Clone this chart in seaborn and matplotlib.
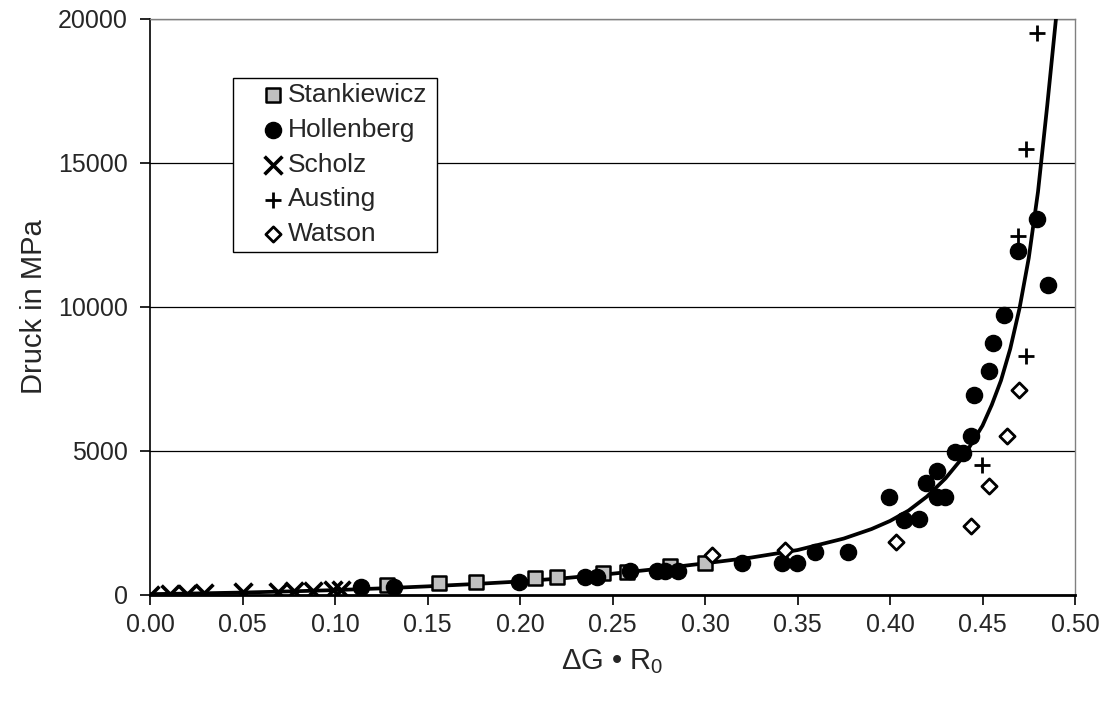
import numpy as np
import pandas as pd
import matplotlib
matplotlib.use("Agg")
import matplotlib.pyplot as plt
from matplotlib.patches import Rectangle
import seaborn as sns

# --- measured data -------------------------------------------------------
stank_x = [0.128, 0.156, 0.176, 0.208, 0.220, 0.245, 0.258, 0.281, 0.300]
stank_p = [330, 400, 460, 580, 630, 750, 800, 1000, 1120]

holl_x = [0.114, 0.132, 0.1995, 0.235, 0.2414, 0.2595, 0.274, 0.2784, 0.2856,
          0.3198, 0.3414, 0.3495, 0.3595, 0.3775, 0.3997, 0.4076, 0.4157,
          0.4193, 0.4252, 0.4252, 0.4297, 0.4351, 0.4396, 0.4436, 0.4456,
          0.4537, 0.4555, 0.4616, 0.4694, 0.4793, 0.4856]
holl_p = [290, 290, 462, 635, 640, 830, 830, 845, 820,
          1120, 1100, 1120, 1480, 1500, 3390, 2600, 2630,
          3880, 4300, 3390, 3390, 4970, 4920, 5530, 6940,
          7790, 8740, 9720, 11950, 13050, 10760]

scholz_x = [0.0, 0.011, 0.020, 0.029, 0.050, 0.069, 0.078, 0.088, 0.099, 0.103]
scholz_p = [0, 40, 50, 60, 90, 120, 130, 150, 170, 190]

aust_x = [0.4495, 0.4735, 0.4694, 0.4735, 0.4793]
aust_p = [4500, 8300, 12450, 15500, 19500]

wat_x = [0.3036, 0.3432, 0.4032, 0.4436, 0.4533, 0.4632, 0.4695]
wat_p = [1390, 1560, 1830, 2400, 3800, 5530, 7120]

# fitted pressure curve
fit_x = [0.000, 0.025, 0.050, 0.075, 0.100, 0.125, 0.150, 0.175, 0.200,
         0.225, 0.250, 0.275, 0.300, 0.325, 0.350, 0.375, 0.390, 0.400,
         0.410, 0.420, 0.430, 0.440, 0.450, 0.455, 0.460, 0.465, 0.470,
         0.475, 0.480, 0.485, 0.4897, 0.4912]
fit_p = [30, 55, 85, 125, 170, 230, 300, 380, 470,
         590, 740, 910, 1100, 1300, 1560, 1960, 2290, 2570,
         2930, 3420, 4050, 4830, 5880, 6600, 7450, 8550, 9950,
         11700, 14000, 17000, 20000, 21000]

x_ticks = [0.00, 0.05, 0.10, 0.15, 0.20, 0.25, 0.30, 0.35, 0.40, 0.45, 0.50]
y_ticks = [0, 5000, 10000, 15000, 20000]

# --- styling -------------------------------------------------------------
sns.set_style("white")
plt.rcParams["font.family"] = ["Liberation Sans", "DejaVu Sans"]
plt.rcParams["mathtext.fontset"] = "custom"
plt.rcParams["mathtext.rm"] = "Liberation Sans"
plt.rcParams["mathtext.it"] = "Liberation Sans"

W, H = 1106, 702
fig = plt.figure(figsize=(W / 100, H / 100), dpi=100)
ax = fig.add_axes([150 / W, (H - 595) / H, 925 / W, 576 / H])

fit = pd.DataFrame({"x": fit_x, "p": fit_p})
sns.lineplot(data=fit, x="x", y="p", ax=ax, color="black", lw=2.7,
             sort=False, zorder=3, legend=False)

series = [
    ("Stankiewicz", stank_x, stank_p,
     dict(marker="s", s=88, facecolor="#c0c0c0", edgecolor="black", linewidth=1.8)),
    ("Hollenberg", holl_x, holl_p,
     dict(marker="o", s=135, facecolor="black", edgecolor="black", linewidth=1)),
    ("Scholz", scholz_x, scholz_p,
     dict(marker="x", s=165, color="black", linewidth=2.6)),
    ("Austing", aust_x, aust_p,
     dict(marker="+", s=140, color="black", linewidth=2.0)),
    ("Watson", wat_x, wat_p,
     dict(marker="D", s=60, facecolor="white", edgecolor="black", linewidth=2.0)),
]

for name, xs, ps, kw in series:
    d = pd.DataFrame({"x": xs, "p": ps})
    sns.scatterplot(data=d, x="x", y="p", ax=ax, label=name, zorder=4, **kw)

ax.set_xlim(0, 0.5)
ax.set_ylim(0, 20000)
ax.set_xticks(x_ticks)
ax.set_xticklabels([f"{v:.2f}" for v in x_ticks])
ax.set_yticks(y_ticks)
ax.set_yticklabels([str(v) for v in y_ticks])
ax.tick_params(axis="both", direction="out", length=7, width=1.2,
               color="black", labelsize=18, bottom=True, left=True)
ax.tick_params(axis="y", pad=9)
ax.tick_params(axis="x", pad=6)

ax.yaxis.grid(True, color="black", lw=0.9)
ax.xaxis.grid(False)
ax.set_axisbelow(True)

ax.spines["left"].set_color("black")
ax.spines["left"].set_linewidth(1.2)
ax.spines["bottom"].set_color("black")
ax.spines["bottom"].set_linewidth(2.0)
for s in ("top", "right"):
    ax.spines[s].set_color("#808080")
    ax.spines[s].set_linewidth(1.0)

ax.set_xlabel("ΔG • R$_0$", fontsize=21, labelpad=7)
ax.set_ylabel("Druck in MPa", fontsize=21, labelpad=7)

# legend box, drawn as a plain white rectangle with a thin black border
box = Rectangle((232.5 / W, (H - 251.5) / H), (437 - 232.5) / W, (251.5 - 77.5) / H,
                transform=fig.transFigure, facecolor="white", edgecolor="black",
                linewidth=1.0, zorder=4.5, clip_on=False)
ax.add_patch(box)

leg = ax.legend(loc="upper left", bbox_to_anchor=(258.5 / W, (H - 83) / H),
                bbox_transform=fig.transFigure,
                borderaxespad=0, frameon=False, fontsize=19,
                handletextpad=0.02, handlelength=1.1, labelspacing=0.41,
                borderpad=0, markerscale=1.0)
leg.set_zorder(5)

fig.savefig("out.png", dpi=100, facecolor="white")
